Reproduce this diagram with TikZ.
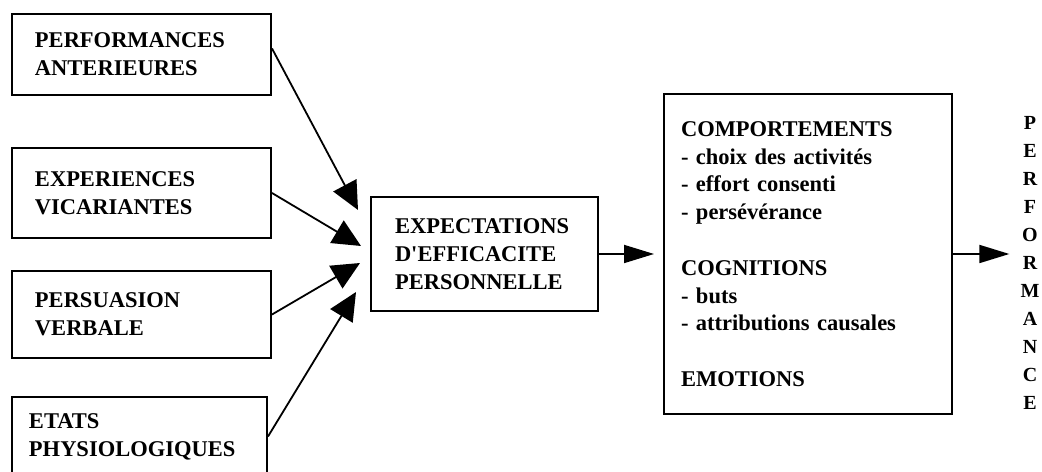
\documentclass[tikz,border=0pt]{standalone}
\usepackage{fontspec}
\setmainfont{Liberation Serif}
\usetikzlibrary{
    arrows.meta,
    positioning,
    calc,
}

\begin{document}
\begin{tikzpicture}[
    x=1bp, y=-1bp,
    node distance = 2cm,
    source/.style={draw, line width=2bp, align=left, inner xsep=23bp, text width=213bp, minimum height=86bp, font=\bfseries\fontsize{22.5bp}{27.8bp}\selectfont},
    outbox/.style={draw, line width=2bp, align=left, font=\bfseries\fontsize{22.5bp}{27.8bp}\selectfont},
    bigarr/.style={line width=1.8bp, -{Triangle[length=28bp, width=26bp]}},
    arr/.style={line width=1.8bp, -{Triangle[length=30bp, width=18bp]}},
    ]

\useasboundingbox (0,0) rectangle (1042,472);

\node[source, minimum height=81bp] at (141.5,54.5) (perfant)
    {PERFORMANCES\\ANTERIEURES};

\node[source, minimum height=90bp] at (141.5,193) (experiences)
    {EXPERIENCES\\VICARIANTES};

\node[source, minimum height=87bp] at (141.5,314.5) (persuasion)
    {PERSUASION\\VERBALE};

\node[source, minimum height=79bp, text width=221bp, inner xsep=17bp] at (139.5,436.5) (etats)
    {ETATS\\PHYSIOLOGIQUES};

\node[outbox, inner xsep=24bp, text width=179bp, minimum height=114bp] at (484.5,254) (expect)
    {EXPECTATIONS\\D\textquotesingle EFFICACITE\\PERSONNELLE};

\node[outbox, inner xsep=17bp, text width=254bp, minimum height=320bp] at (808,254) (comp)
    {COMPORTEMENTS\\- choix des activités\\- effort consenti\\- persévérance\\[27.8bp]COGNITIONS\\- buts\\- attributions causales\\[27.8bp]EMOTIONS};

\node[align=center, inner sep=0pt, font=\bfseries\fontsize{20bp}{28bp}\selectfont] at (1030,263) (perf)
    {P\\E\\R\\F\\O\\R\\M\\A\\N\\C\\E};

\draw[bigarr] ([yshift=6bp]perfant.east) -- ([shift={(-12,-44)}]expect.west);
\draw[bigarr] (experiences.east) -- ([shift={(-9,-8)}]expect.west);
\draw[bigarr] (persuasion.east) -- ([shift={(-10,9)}]expect.west);
\draw[bigarr] (etats.east) -- ([shift={(-14,38)}]expect.west);

\draw[arr, shorten >=9bp] (expect.east) -- (comp.west);
\draw[arr, shorten >=11bp] (comp.east) -- (comp.east -| perf.west);

\end{tikzpicture}
\end{document}
